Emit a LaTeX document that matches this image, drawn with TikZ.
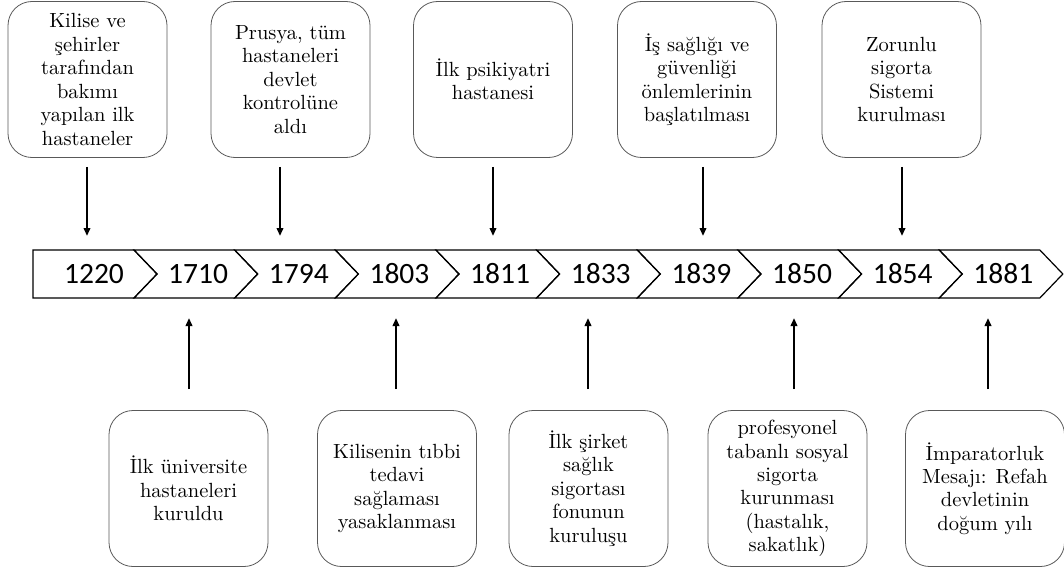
\documentclass[tikz,border=0pt]{standalone}
\usepackage{fontspec}
\newfontfamily\yearfont{Carlito}
% the 10pt design size of Latin Modern, scaled up (wider and darker than the 17pt design)
\newfontfamily\evfont{lmroman10-regular.otf}
\usetikzlibrary{arrows.meta}
\begin{document}
\begin{tikzpicture}[x=1pt,y=-1pt,
  evbox/.style={draw=black!65, line width=0.8pt, rounded corners=24pt,
    minimum width=159pt, minimum height=156pt, inner sep=0pt, align=center,
    font=\evfont\fontsize{20.5}{23.4}\selectfont},
  band/.style={draw=black, line width=1.2pt, line join=miter},
  yearlbl/.style={font=\yearfont\fontsize{29.5}{30}\selectfont, inner sep=0pt},
  arr/.style={line width=2pt, -{Triangle[length=8pt,width=6.5pt]}}]
\useasboundingbox (0,0) rectangle (1064,572);

% chevron band
\draw[band] (33,250) -- (134,250) -- (157,274) -- (134,298) -- (33,298) -- cycle;
\foreach \i in {1,...,9}{
  \pgfmathsetmacro{\tp}{157+100.65*(\i-1)}
  \pgfmathsetmacro{\tn}{157+100.65*\i}
  \draw[band] (\tp-23,250) -- (\tn-23,250) -- (\tn,274) -- (\tn-23,298)
    -- (\tp-23,298) -- (\tp,274) -- cycle;
}

% years
\node[yearlbl] (y1) at (94,274) {1220};
\foreach \i/\yr in {1/1710,2/1794,3/1803,4/1811,5/1833,6/1839,7/1850,8/1854,9/1881}{
  \pgfmathsetmacro{\tx}{157+100.65*\i-59.5}
  \node[yearlbl] (y\yr) at (\tx,274) {\yr};
}

% events above
\node[evbox] (t1) at (87.5,79.5) {Kilise ve\\şehirler\\tarafından\\bakımı\\yapılan ilk\\hastaneler};
\node[evbox] (t2) at (290.5,79.5) {Prusya, tüm\\hastaneleri\\devlet\\kontrolüne\\aldı};
\node[evbox] (t3) at (493,79.5) {İlk psikiyatri\\hastanesi};
\node[evbox] (t4) at (697,79.5) {İş sağlığı ve\\güvenliği\\önlemlerinin\\başlatılması};
\node[evbox] (t5) at (901.5,79.5) {Zorunlu\\sigorta\\Sistemi\\kurulması};

% events below
\node[evbox] (b1) at (188.5,488.5) {İlk üniversite\\hastaneleri\\kuruldu};
\node[evbox] (b2) at (397,488.5) {Kilisenin tıbbi\\tedavi\\sağlaması\\yasaklanması};
\node[evbox] (b3) at (588.5,488.5) {İlk şirket\\sağlık\\sigortası\\fonunun\\kuruluşu};
\node[evbox] (b4) at (787.5,488.5) {profesyonel\\tabanlı sosyal\\sigorta\\kurunması\\(hastalık,\\sakatlık)};
\node[evbox] (b5) at (985,488.5) {İmparatorluk\\Mesajı: Refah\\devletinin\\doğum yılı};

% arrow ends
\foreach \n/\x in {1/87,2/280,3/493,4/703,5/902}{
  \coordinate (ts\n) at (\x,167);
  \coordinate (te\n) at (\x,236);
}
\foreach \n/\x in {1/189,2/396,3/588,4/794,5/988}{
  \coordinate (bs\n) at (\x,389);
  \coordinate (be\n) at (\x,318);
}

% arrows
\draw[arr] (ts1) -- (te1);
\draw[arr] (ts2) -- (te2);
\draw[arr] (ts3) -- (te3);
\draw[arr] (ts4) -- (te4);
\draw[arr] (ts5) -- (te5);
\draw[arr] (bs1) -- (be1);
\draw[arr] (bs2) -- (be2);
\draw[arr] (bs3) -- (be3);
\draw[arr] (bs4) -- (be4);
\draw[arr] (bs5) -- (be5);
\end{tikzpicture}
\end{document}
